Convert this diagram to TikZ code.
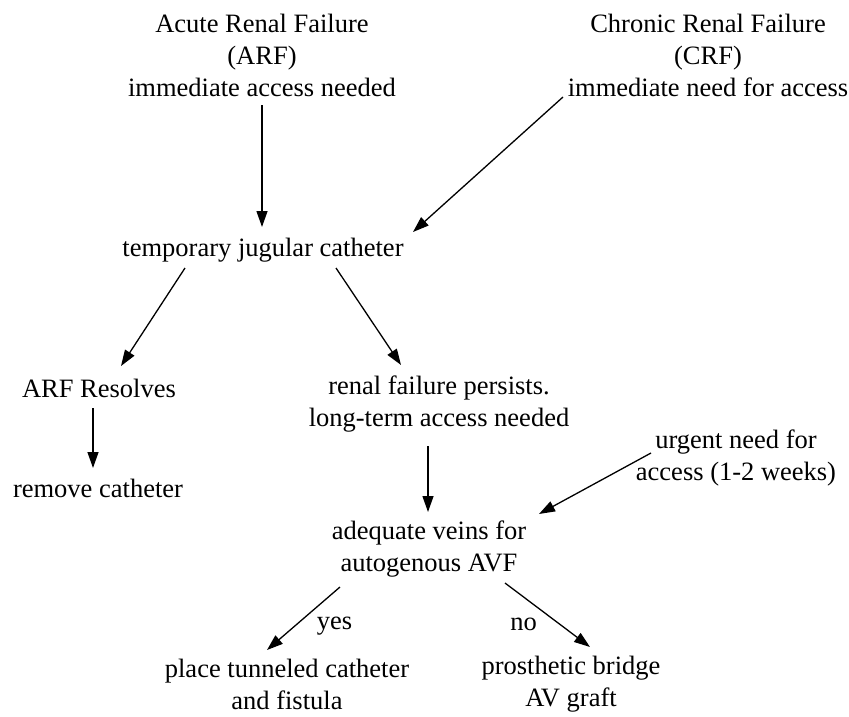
\documentclass[tikz,border=0pt]{standalone}
\usepackage{fontspec}
\setmainfont{Liberation Serif}
\usetikzlibrary{arrows.meta}
\usetikzlibrary{calc}
\tikzset{txt/.style={inner sep=0pt, align=center, font=\fontsize{26.5}{32}\selectfont}}
\tikzset{arr/.style={line width=1.3pt, -{Triangle[length=16pt,width=11pt]}}}
\tikzset{lab/.style={inner sep=0pt, font=\fontsize{26.5}{32}\selectfont}}

\begin{document}
\begin{tikzpicture}[x=1pt, y=-1pt]
	\useasboundingbox (0,0) rectangle (849,717);
	% nodes
	\node [txt] (arf) at (262,55) {Acute Renal Failure\\(ARF)\\immediate access needed};
	\node [txt] (crf) at (708,55) {Chronic Renal Failure\\(CRF)\\immediate need for access};
	\node [txt] (tmp) at (263,250) {temporary jugular catheter};
	\node [txt] (res) at (99,388) {ARF Resolves};
	\node [txt] (per) at (439,404) {renal failure persists.\\long-term access needed};
	\node [txt] (rem) at (98,488) {remove catheter};
	\node [txt] (urg) at (736,458) {urgent need for\\access (1-2 weeks)};
	\node [txt] (adq) at (429,549) {adequate veins for\\autogenous AVF};
	\node [txt] (plc) at (287,684) {place tunneled catheter\\and fistula};
	\node [txt] (pro) at (571,684) {prosthetic bridge\\AV graft};
	% connectors
	\draw [arr] ($(arf)+(0,50)$) to ($(tmp)+(-1,-23)$);
	\draw [arr] ($(crf)+(-145,42)$) to ($(tmp)+(150,-18)$);
	\draw [arr] ($(tmp)+(-78,18)$) to ($(res)+(22,-22)$);
	\draw [arr] ($(tmp)+(73,18)$) to ($(per)+(-38,-39)$);
	\draw [arr] ($(res)+(-6,20)$) to ($(rem)+(-5,-20)$);
	\draw [arr] ($(per)+(-11,42)$) to ($(adq)+(-1,-37)$);
	\draw [arr] ($(urg)+(-85,-5)$) to ($(adq)+(110,-35)$);
	\draw [arr] ($(adq)+(-89,38)$) to node [lab, pos=0.5, xshift=31pt, yshift=-8pt] {yes} ($(plc)+(-20,-34)$);
	\draw [arr] ($(adq)+(76,34)$) to node [lab, pos=0.5, xshift=-24pt, yshift=-9pt] {no} ($(pro)+(19,-37)$);
\end{tikzpicture}
\end{document}
